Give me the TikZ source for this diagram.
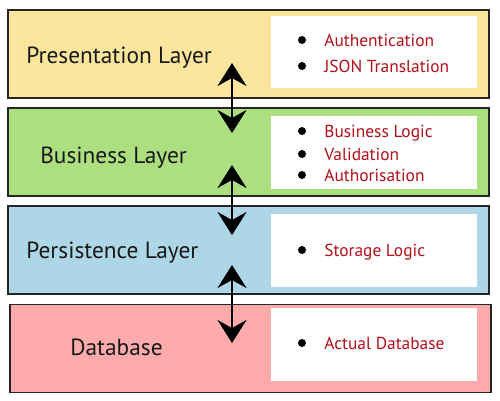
\documentclass[tikz,border=0pt]{standalone}
\usepackage{fontspec}
\setmainfont{PT Sans}
\usetikzlibrary{arrows.meta}
\definecolor{presfill}{HTML}{FCE69E}
\definecolor{busfill}{HTML}{ACDF80}
\definecolor{persfill}{HTML}{ADD6E6}
\definecolor{dbfill}{HTML}{FFABAB}
\definecolor{itemred}{HTML}{B3121C}
\tikzset{
	layer/.style={draw=black!85, line width=0.8pt, minimum width=9.62cm, minimum height=1.76cm, inner sep=0},
	itembox/.style={fill=white, minimum width=4.12cm, minimum height=1.46cm, inner sep=0},
	layername/.style={font=\fontsize{13.3}{15}\selectfont, text=black!90, anchor=base west, inner sep=0},
	item/.style={font=\fontsize{9.9}{11}\selectfont, text=itemred, anchor=base west, inner sep=0},
	dot/.style={circle, fill=black, minimum size=0.16cm, inner sep=0},
	link/.style={line width=1.6pt, {Stealth[length=4.6mm,width=5.8mm,inset=1.6mm]}-{Stealth[length=4.6mm,width=5.8mm,inset=1.6mm]}}
}
\begin{document}
\begin{tikzpicture}[x=0.02cm,y=-0.02cm]
\useasboundingbox (0,0) rectangle (500,400);

% the four layers
\node[layer, fill=presfill] (pres) at (248.5,54) {};
\node[layer, fill=busfill] (bus) at (248.5,152) {};
\node[layer, fill=persfill] (pers) at (248.5,250) {};
\node[layer, fill=dbfill] (db) at (250.5,348.5) {};

\foreach \n/\y in {1/52,2/152,3/250,4/344.5}
	\node[itembox] (box\n) at (374,\y) {};

\node[layername] (presname) at (26,63) {Presentation Layer};
\node[layername] (busname) at (40,163) {Business Layer};
\node[layername] (persname) at (26,258) {Persistence Layer};
\node[layername] (dbname) at (70,355) {Database};

% bullet lists
\foreach \n/\y/\t in {1/46/Authentication, 2/72/JSON Translation, 3/137/Business Logic,
	4/160/Validation, 5/181/Authorisation, 6/256/Storage Logic, 7/349/Actual Database}
{
	\node[dot] (dot\n) at (302,\y-6) {};
	\node[item] (item\n) at (324,\y) {\t};
}

% arrows between layers
\coordinate (a1t) at (232,63);
\coordinate (a1b) at (232,133);
\coordinate (a2t) at (232,165);
\coordinate (a2b) at (232,235);
\coordinate (a3t) at (232,265);
\coordinate (a3b) at (232,343);
\draw[link] (a1t) -- (a1b);
\draw[link] (a2t) -- (a2b);
\draw[link] (a3t) -- (a3b);
\end{tikzpicture}
\end{document}
